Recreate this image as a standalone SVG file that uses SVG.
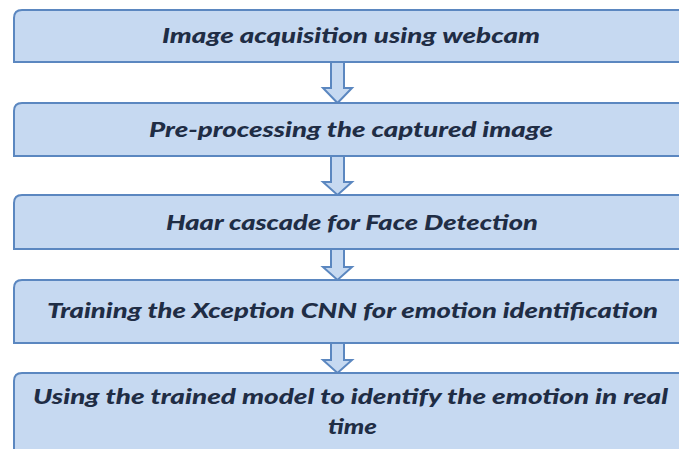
<svg xmlns="http://www.w3.org/2000/svg" width="679" height="449" viewBox="0 0 679 449">
<style>
.box{fill:#c6d9f1;stroke:#5b87c0;stroke-width:2}
.arr{fill:#c6d9f1;stroke:#5b87c0;stroke-width:2;stroke-linejoin:miter}
.t{font-family:Lato,"Open Sans","Liberation Sans",sans-serif;font-weight:900;font-style:italic;font-size:21.5px;fill:#1f2d45;text-anchor:start}
</style>
<rect width="679" height="449" fill="#ffffff"/>
<g id="connectors">
<path class="arr" d="M331,62 V88 H323 L337.5,103 L352,88 H344 V62 Z"/>
<path class="arr" d="M331,156 V182 H323 L337.5,195 L352,182 H344 V156 Z"/>
<path class="arr" d="M331,249 V267 H323 L337.5,280 L352,267 H344 V249 Z"/>
<path class="arr" d="M331,343 V360 H323 L337.5,373 L352,360 H344 V343 Z"/>
</g>
<g id="n1">
<path class="box" d="M14,62 V18 Q14,10 22,10 H700 V62 Z"/>
<text class="t" x="162" y="43" textLength="378" lengthAdjust="spacingAndGlyphs">Image acquisition using webcam</text>
</g>
<g id="n2">
<path class="box" d="M14,156 V111 Q14,103 22,103 H700 V156 Z"/>
<text class="t" x="149" y="137" textLength="404" lengthAdjust="spacingAndGlyphs">Pre-processing the captured image</text>
</g>
<g id="n3">
<path class="box" d="M14,249 V203 Q14,195 22,195 H700 V249 Z"/>
<text class="t" x="166" y="230" textLength="372" lengthAdjust="spacingAndGlyphs">Haar cascade for Face Detection</text>
</g>
<g id="n4">
<path class="box" d="M14,343 V288 Q14,280 22,280 H700 V343 Z"/>
<text class="t" x="47" y="318" textLength="611" lengthAdjust="spacingAndGlyphs">Training the Xception CNN for emotion identification</text>
</g>
<g id="n5">
<path class="box" d="M14,460 V381 Q14,373 22,373 H700 V460 Z"/>
<text class="t" x="33" y="404" textLength="635" lengthAdjust="spacingAndGlyphs">Using the trained model to identify the emotion in real</text>
<text class="t" x="328" y="434" textLength="49" lengthAdjust="spacingAndGlyphs">time</text>
</g>
</svg>
